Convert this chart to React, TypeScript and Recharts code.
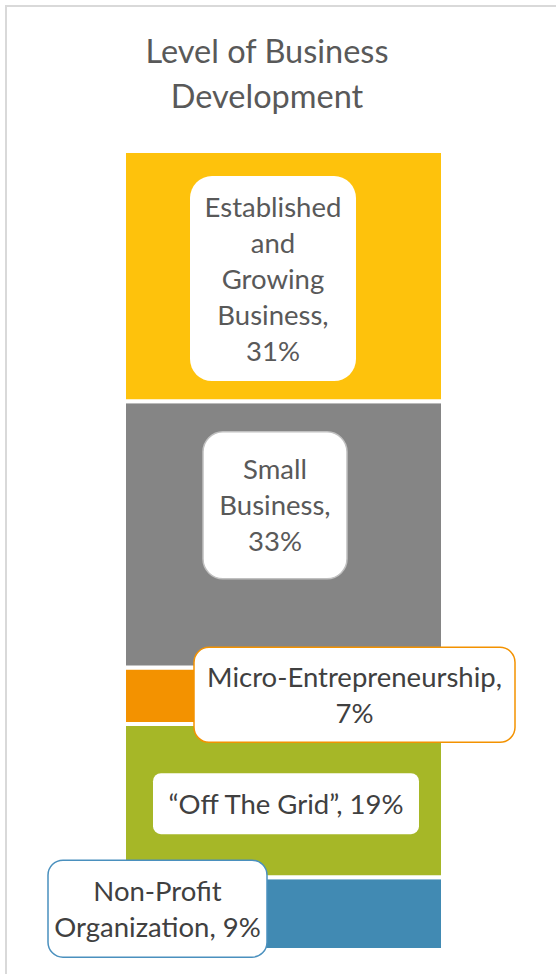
import React from 'react';
import { BarChart, Bar, XAxis, YAxis } from 'recharts';

const categories = ['Level of Business Development'];
const titleLines = ['Level of Business', 'Development'];
const seriesKeys = ['nonProfit', 'offGrid', 'micro', 'small', 'established'];
const seriesNames = [
  'Non-Profit Organization',
  '\u201COff The Grid\u201D',
  'Micro-Entrepreneurship',
  'Small Business',
  'Established and Growing Business',
];
const seriesValues = [9, 19, 7, 33, 31];
const valueDomain = [0, 99];

const data = categories.map((c) => {
  const row: any = { category: c };
  seriesKeys.forEach((k, i) => {
    row[k] = seriesValues[i];
  });
  return row;
});

const seriesStyles = [
  { fill: '#418AB3', dx: -126, dy: -5, w: 219, h: 97, r: 15, stroke: '#4A90BE', text: '#404040', wrap: 18 },
  { fill: '#A6B727', dx: 2.5, dy: 3, w: 266, h: 61, r: 8, stroke: 'none', text: '#404040', wrap: 30 },
  { fill: '#F39200', dx: 71, dy: -1, w: 321, h: 95, r: 15, stroke: '#F39200', text: '#404040', wrap: 23 },
  { fill: '#858585', dx: -8.5, dy: -29, w: 144, h: 147, r: 20, stroke: '#C0C0C0', text: '#595959', wrap: 9 },
  { fill: '#FEC20C', dx: -10.5, dy: 2.5, w: 166, h: 205, r: 22, stroke: 'none', text: '#595959', wrap: 10 },
];

const FONT = 'Lato, "Open Sans", sans-serif';
const LABEL_SIZE = 27.5;
const TITLE_SIZE = 32.5;
const LINE_H = 36;
const W = 556;
const H = 974;
const margin = { top: 151, right: 113, bottom: 24, left: 124 };

function wrapText(text: string, maxChars: number): string[] {
  const words = text.split(' ');
  const lines: string[] = [];
  let cur = '';
  words.forEach((w) => {
    if (!cur) cur = w;
    else if ((cur + ' ' + w).length <= maxChars) cur = cur + ' ' + w;
    else {
      lines.push(cur);
      cur = w;
    }
  });
  if (cur) lines.push(cur);
  return lines;
}

function makeLabel(i: number) {
  const s = seriesStyles[i];
  return (props: any) => {
    const x = Number(props.x);
    const y = Number(props.y);
    const width = Number(props.width);
    const height = Number(props.height);
    const cx = x + width / 2 + s.dx;
    const cy = y + height / 2 + s.dy;
    const lines = wrapText(`${seriesNames[i]}, ${seriesValues[i]}%`, s.wrap);
    const first = cy - ((lines.length - 1) / 2) * LINE_H + 10;
    return (
      <g key={`lbl-${i}`}>
        <rect
          x={cx - s.w / 2}
          y={cy - s.h / 2}
          width={s.w}
          height={s.h}
          rx={s.r}
          ry={s.r}
          fill="#FFFFFF"
          stroke={s.stroke}
          strokeWidth={1.5}
        />
        <text textAnchor="middle" fontFamily={FONT} fontSize={LABEL_SIZE} fill={s.text}>
          {lines.map((l, j) => (
            <tspan key={j} x={cx} y={first + j * LINE_H}>
              {l}
            </tspan>
          ))}
        </text>
      </g>
    );
  };
}

function Chart({ overlay }: { overlay: boolean }) {
  return (
    <BarChart width={W} height={H} data={data} margin={margin} barCategoryGap={0} barGap={0}>
      <XAxis dataKey="category" hide />
      <YAxis hide domain={valueDomain} type="number" allowDataOverflow />
      {seriesKeys.map((k, i) => (
        <Bar
          key={k}
          dataKey={k}
          stackId="a"
          fill={overlay ? 'none' : seriesStyles[i].fill}
          stroke={overlay ? 'none' : '#FFFFFF'}
          strokeWidth={overlay ? 0 : 4}
          isAnimationActive={false}
          label={overlay ? makeLabel(i) : undefined}
        />
      ))}
    </BarChart>
  );
}

export default function App() {
  return (
    <div>
      <div
        style={{
          position: 'absolute',
          left: 5,
          top: 5,
          width: 549,
          height: 967,
          borderLeft: '2px solid #D9D9D9',
          borderTop: '2px solid #D9D9D9',
          background: '#FFFFFF',
        }}
      />
      <div style={{ position: 'absolute', left: 0, top: 0, width: W, height: H }}>
        <Chart overlay={false} />
      </div>
      <div style={{ position: 'absolute', left: 0, top: 0, width: W, height: H, pointerEvents: 'none' }}>
        <Chart overlay={true} />
      </div>
      <svg
        width={W}
        height={140}
        style={{ position: 'absolute', left: 0, top: 0, pointerEvents: 'none' }}
      >
        <text textAnchor="middle" fontFamily={FONT} fontSize={TITLE_SIZE} fill="#595959">
          {titleLines.map((t, j) => (
            <tspan key={j} x={267} y={63 + j * 45}>
              {t}
            </tspan>
          ))}
        </text>
      </svg>
    </div>
  );
}
